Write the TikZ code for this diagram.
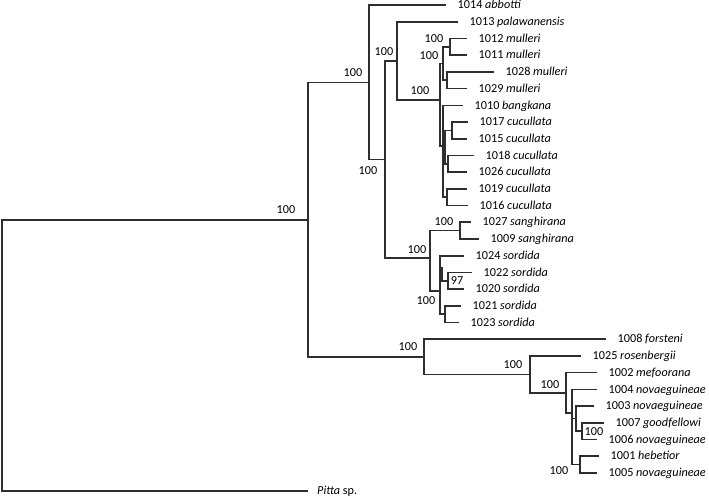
\documentclass[tikz,border=0pt]{standalone}
\usepackage{fontspec}
\setmainfont{Carlito}
\newcommand\stem[3]{\draw[br] (#1 |- #2) -- (#1 |- #3);}
\newcommand\twig[2]{\draw[br] (#1 |- #2) -- (#2);}
\begin{document}
\begin{tikzpicture}[x=1pt,y=-1pt,
  br/.style={line width=1.6pt, draw=black!82, line cap=rect},
  leaf/.style={anchor=west, inner xsep=12.5pt, inner ysep=0pt, text height=8.5pt, text depth=1pt, font=\fontsize{12.2}{14}\selectfont},
  bs/.style={inner sep=0pt, font=\fontsize{12.2}{14}\selectfont}]
\useasboundingbox (0,0) rectangle (709,498);
% leaves
\node[leaf] (t1014) at (445,5.0) {1014 \textit{abbotti}};
\node[leaf] (t1013) at (457,21.7) {1013 \textit{palawanensis}};
\node[leaf] (t1012) at (466,38.4) {1012 \textit{mulleri}};
\node[leaf] (t1011) at (466,55.1) {1011 \textit{mulleri}};
\node[leaf] (t1028) at (493,71.8) {1028 \textit{mulleri}};
\node[leaf] (t1029) at (466,88.6) {1029 \textit{mulleri}};
\node[leaf] (t1010) at (462,105.3) {1010 \textit{bangkana}};
\node[leaf] (t1017) at (467,122.0) {1017 \textit{cucullata}};
\node[leaf] (t1015) at (466,138.7) {1015 \textit{cucullata}};
\node[leaf] (t1018) at (473,155.4) {1018 \textit{cucullata}};
\node[leaf] (t1026) at (466,172.1) {1026 \textit{cucullata}};
\node[leaf] (t1019) at (466,188.8) {1019 \textit{cucullata}};
\node[leaf] (t1016) at (467,205.5) {1016 \textit{cucullata}};
\node[leaf] (t1027) at (470,222.2) {1027 \textit{sanghirana}};
\node[leaf] (t1009) at (478,238.9) {1009 \textit{sanghirana}};
\node[leaf] (t1024) at (463,255.7) {1024 \textit{sordida}};
\node[leaf] (t1022) at (471,272.4) {1022 \textit{sordida}};
\node[leaf] (t1020) at (463,289.1) {1020 \textit{sordida}};
\node[leaf] (t1021) at (460,305.8) {1021 \textit{sordida}};
\node[leaf] (t1023) at (458,322.5) {1023 \textit{sordida}};
\node[leaf] (t1008) at (605,339.2) {1008 \textit{forsteni}};
\node[leaf] (t1025) at (580,355.9) {1025 \textit{rosenbergii}};
\node[leaf] (t1002) at (596,372.6) {1002 \textit{mefoorana}};
\node[leaf] (t1004) at (596,389.3) {1004 \textit{novaeguineae}};
\node[leaf] (t1003) at (593,406.0) {1003 \textit{novaeguineae}};
\node[leaf] (t1007) at (603,422.8) {1007 \textit{goodfellowi}};
\node[leaf] (t1006) at (596,439.5) {1006 \textit{novaeguineae}};
\node[leaf] (t1001) at (598,456.2) {1001 \textit{hebetior}};
\node[leaf] (t1005) at (596,472.9) {1005 \textit{novaeguineae}};
\node[leaf, inner xsep=10pt] (pitta) at (307,491) {\textit{Pitta} sp.};
% internal nodes
\coordinate (root) at (2,356);
\coordinate (IN) at (308,219.9);
\coordinate (A) at (369,82.3);
\coordinate (B) at (385,159.5);
\coordinate (C) at (397,61);
\coordinate (E) at (440,100);
\coordinate (F) at (443,63.5);
\coordinate (F1) at (450,46.75);
\coordinate (F2) at (447,80.2);
\coordinate (H) at (443,146);
\coordinate (H2) at (445,147.05);
\coordinate (I) at (452,130.35);
\coordinate (J) at (448,163.75);
\coordinate (K) at (447,197.15);
\coordinate (D) at (430,258);
\coordinate (L) at (460,230.55);
\coordinate (M) at (440,291);
\coordinate (N) at (448,280.75);
\coordinate (O) at (445,314.15);
\coordinate (NG) at (424,356.8);
\coordinate (P) at (530,374.35);
\coordinate (Q) at (566,392.8);
\coordinate (R) at (572,413);
\coordinate (T) at (576,418.6);
\coordinate (U) at (582,431.15);
\coordinate (S) at (580,464.55);
% branches
\stem{root}{IN}{pitta.west} \twig{root}{IN} \twig{root}{pitta.west}
\stem{IN}{A}{NG} \twig{IN}{A} \twig{IN}{NG}
\stem{A}{t1014.west}{B} \twig{A}{t1014.west} \twig{A}{B}
\stem{B}{C}{D} \twig{B}{C} \twig{B}{D}
\stem{C}{t1013.west}{E} \twig{C}{t1013.west} \twig{C}{E}
\stem{E}{F}{H} \twig{E}{F} \twig{E}{H}
\stem{F}{F1}{F2} \twig{F}{F1} \twig{F}{F2}
\stem{F1}{t1012.west}{t1011.west} \twig{F1}{t1012.west} \twig{F1}{t1011.west}
\stem{F2}{t1028.west}{t1029.west} \twig{F2}{t1028.west} \twig{F2}{t1029.west}
\stem{H}{t1010.west}{K} \twig{H}{t1010.west} \twig{H}{H2} \twig{H}{K}
\stem{H2}{I}{J} \twig{H2}{I} \twig{H2}{J}
\stem{I}{t1017.west}{t1015.west} \twig{I}{t1017.west} \twig{I}{t1015.west}
\stem{J}{t1018.west}{t1026.west} \twig{J}{t1018.west} \twig{J}{t1026.west}
\stem{K}{t1019.west}{t1016.west} \twig{K}{t1019.west} \twig{K}{t1016.west}
\stem{D}{L}{M} \twig{D}{L} \twig{D}{M}
\stem{L}{t1027.west}{t1009.west} \twig{L}{t1027.west} \twig{L}{t1009.west}
\stem{M}{t1024.west}{O} \twig{M}{t1024.west} \twig{M}{N} \twig{M}{O}
\draw[br, line width=2.2pt] ([xshift=1.5pt]M |- 0,268) -- ([xshift=1.5pt]M |- N);
\stem{N}{t1022.west}{t1020.west} \twig{N}{t1022.west} \twig{N}{t1020.west}
\stem{O}{t1021.west}{t1023.west} \twig{O}{t1021.west} \twig{O}{t1023.west}
\stem{NG}{t1008.west}{P} \twig{NG}{t1008.west} \twig{NG}{P}
\stem{P}{t1025.west}{Q} \twig{P}{t1025.west} \twig{P}{Q}
\stem{Q}{t1002.west}{R} \twig{Q}{t1002.west} \twig{Q}{R}
\stem{R}{t1004.west}{S} \twig{R}{t1004.west} \twig{R}{T} \twig{R}{S}
\draw[br, line width=2.4pt] (R |- 0,428) -- (R |- 0,442);
\stem{T}{t1003.west}{U} \twig{T}{t1003.west} \twig{T}{U}
\stem{U}{t1007.west}{t1006.west} \twig{U}{t1007.west} \twig{U}{t1006.west}
\stem{S}{t1001.west}{t1005.west} \twig{S}{t1001.west} \twig{S}{t1005.west}
% bootstrap values
\node[bs] (b1) at (286,210) {100};
\node[bs] (b2) at (353,73) {100};
\node[bs] (b3) at (368,171) {100};
\node[bs] (b4) at (384,52) {100};
\node[bs] (b5) at (420,91) {100};
\node[bs] (b6) at (429,56) {100};
\node[bs] (b7) at (434,39) {100};
\node[bs] (b8) at (417,250) {100};
\node[bs] (b9) at (444,222) {100};
\node[bs] (b10) at (426,301) {100};
\node[bs] (b11) at (457,281) {97};
\node[bs] (b12) at (408,347) {100};
\node[bs] (b13) at (513,365) {100};
\node[bs] (b14) at (550,385) {100};
\node[bs] (b15) at (594,432) {100};
\node[bs] (b16) at (559,471) {100};
\end{tikzpicture}
\end{document}
